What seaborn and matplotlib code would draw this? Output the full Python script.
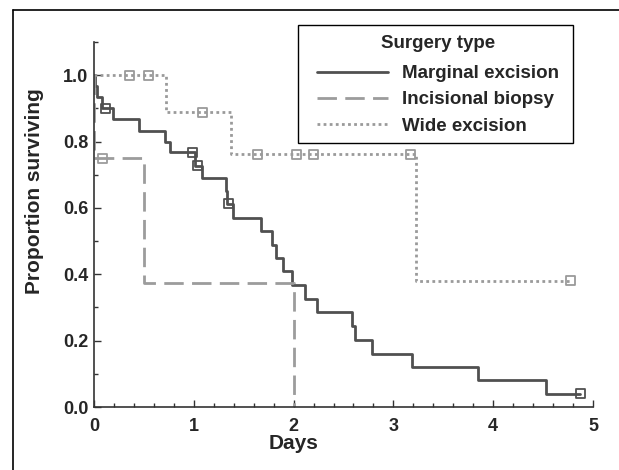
import matplotlib
matplotlib.use("Agg")
import matplotlib.pyplot as plt
from matplotlib.lines import Line2D
from matplotlib.patches import Rectangle
from matplotlib.ticker import MultipleLocator
import pandas as pd
import seaborn as sns

# Kaplan-Meier step data (days, proportion surviving)
marginal_t = [0, 0.01, 0.03, 0.08, 0.19, 0.45, 0.71, 0.76, 1.01, 1.08, 1.32, 1.335,
              1.39, 1.67, 1.78, 1.82, 1.89, 1.98, 2.11, 2.23, 2.59, 2.62, 2.79, 3.19,
              3.85, 4.53, 4.87]
marginal_s = [1.0, 0.967, 0.933, 0.90, 0.867, 0.833, 0.80, 0.767, 0.727, 0.689, 0.65, 0.613,
              0.571, 0.53, 0.489, 0.45, 0.409, 0.369, 0.325, 0.285, 0.243, 0.202, 0.16, 0.12,
              0.08, 0.04, 0.04]
marginal_cens_t = [0.12, 0.99, 1.04, 1.35, 4.87]
marginal_cens_s = [0.90, 0.767, 0.727, 0.613, 0.04]

incisional_t = [0, 0.0, 0.5, 2.0]
incisional_s = [1.0, 0.75, 0.375, 0.0]
incisional_cens_t = [0.09]
incisional_cens_s = [0.75]

wide_t = [0, 0.72, 1.37, 3.23, 4.77]
wide_s = [1.0, 0.889, 0.762, 0.381, 0.381]
wide_cens_t = [0.36, 0.55, 1.09, 1.64, 2.03, 2.20, 3.17, 4.77]
wide_cens_s = [1.0, 1.0, 0.889, 0.762, 0.762, 0.762, 0.762, 0.381]

groups = ["Marginal excision", "Incisional biopsy", "Wide excision"]

sns.set_theme(style="ticks")
plt.rcParams["font.family"] = ["Liberation Sans", "DejaVu Sans"]
plt.rcParams["font.weight"] = "bold"

W, H = 619, 470
fig = plt.figure(figsize=(W / 100, H / 100), dpi=100)
ax = fig.add_axes([94 / W, 1 - 407 / H, 499 / W, 365 / H])

styles = {
    "Marginal excision": dict(color="#505050", lw=2.0, ls="-"),
    "Incisional biopsy": dict(color="#9c9c9c", lw=2.0, ls=(0, (7, 3))),
    "Wide excision": dict(color="#9a9a9a", lw=2.0, ls=(0, (1, 1.2))),
}
curves = {
    "Marginal excision": (marginal_t, marginal_s, marginal_cens_t, marginal_cens_s),
    "Incisional biopsy": (incisional_t, incisional_s, incisional_cens_t, incisional_cens_s),
    "Wide excision": (wide_t, wide_s, wide_cens_t, wide_cens_s),
}

for name in groups:
    t, s, ct, cs = curves[name]
    st = styles[name]
    df = pd.DataFrame({"days": t, "surv": s})
    sns.lineplot(data=df, x="days", y="surv", ax=ax, estimator=None, sort=False,
                 drawstyle="steps-post", color=st["color"], linewidth=st["lw"],
                 linestyle=st["ls"])
    sns.scatterplot(x=ct, y=cs, ax=ax, marker="s", s=42, facecolor="none",
                    edgecolor=st["color"], linewidth=1.3, zorder=5)

ax.set_xlim(0, 5)
ax.set_ylim(0, 1.1)
ax.xaxis.set_major_locator(MultipleLocator(1))
ax.xaxis.set_minor_locator(MultipleLocator(0.2))
ax.yaxis.set_major_locator(MultipleLocator(0.2))
ax.yaxis.set_minor_locator(MultipleLocator(0.1))
ax.yaxis.set_major_formatter(plt.FormatStrFormatter("%.1f"))
ax.tick_params(which="major", direction="in", length=5, width=1, color="#333333",
               labelsize=13, pad=4)
ax.tick_params(which="minor", direction="in", length=3, width=1, color="#333333")
ax.tick_params(axis="x", pad=8)
for lab in ax.get_xticklabels() + ax.get_yticklabels():
    lab.set_fontweight("bold")

sns.despine(ax=ax)
for sp in ["left", "bottom"]:
    ax.spines[sp].set_color("#333333")
    ax.spines[sp].set_linewidth(1.2)

ax.set_xlabel("Days", fontsize=15, fontweight="bold")
ax.set_ylabel("Proportion surviving", fontsize=15, fontweight="bold")
ax.xaxis.set_label_coords(0.4, (407 - 434) / 365)
ax.yaxis.set_label_coords((44 - 94) / 499, (407 - 191) / 365)

handles = [Line2D([], [], color=styles[g]["color"], lw=styles[g]["lw"],
                  ls=styles[g]["ls"]) for g in groups]
leg = fig.legend(handles, groups, title="Surgery type", loc="upper left",
                 bbox_to_anchor=(317 / W, 1 - 35 / H), frameon=False, fontsize=13.5,
                 title_fontproperties={"weight": "bold", "size": 13.5},
                 handlelength=3.8, labelspacing=0.48, borderpad=0,
                 handletextpad=0.75, borderaxespad=0)
leg._legend_box.sep = 9.5
for txt in leg.get_texts():
    txt.set_fontweight("bold")

# legend frame
fig.add_artist(Rectangle((298 / W, 1 - 143 / H), 275 / W, 118 / H, fill=False,
                         edgecolor="black", lw=1.0, transform=fig.transFigure))

# partial frame around the figure panel
fig.add_artist(Line2D([13 / W, 13 / W], [0, 1 - 10 / H], color="black", lw=1.2))
fig.add_artist(Line2D([13 / W, 1], [1 - 10 / H, 1 - 10 / H], color="black", lw=1.2))

fig.savefig("out.png", dpi=100)
